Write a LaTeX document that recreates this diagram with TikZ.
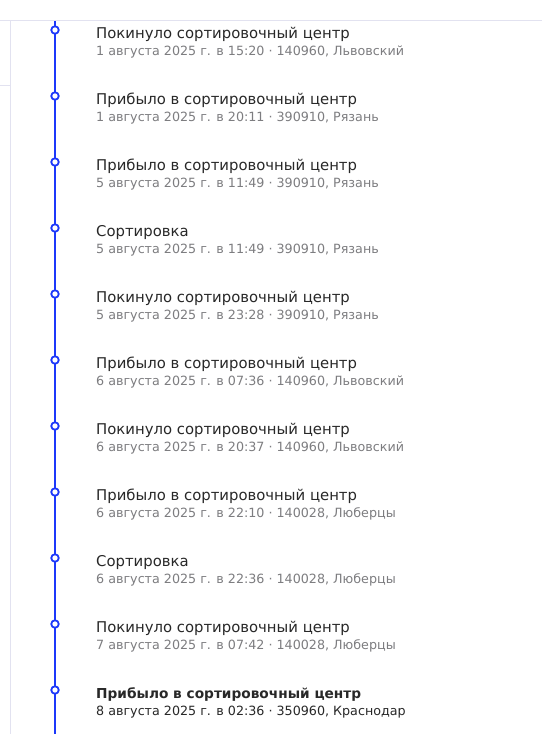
\documentclass[tikz,border=0pt]{standalone}
\usepackage{fontspec}
\setmainfont{DejaVu Sans}
\definecolor{tlblue}{RGB}{28,56,250}
\definecolor{sep}{RGB}{226,226,240}
\definecolor{ttl}{RGB}{40,40,40}
\definecolor{sub}{RGB}{125,125,128}
\begin{document}
\begin{tikzpicture}[x=1pt,y=-1pt,
  dot/.style={circle,draw=tlblue,fill=white,line width=1.8pt,minimum size=7.5pt,inner sep=0pt},
  ttlstyle/.style={anchor=base west,inner sep=0pt,text=ttl,font=\fontsize{14.85}{16}\selectfont},
  substyle/.style={anchor=base west,inner sep=0pt,text=sub,font=\fontsize{12.7}{14}\selectfont},
  sepline/.style={draw=sep,line width=1pt}]
\useasboundingbox (0,0) rectangle (542,734);
\fill[white] (0,0) rectangle (542,734);
\coordinate (t0) at (0,20.5);
\coordinate (t1) at (542,20.5);
\coordinate (v0) at (10.5,20.5);
\coordinate (v1) at (10.5,734);
\coordinate (h0) at (0,85.5);
\coordinate (h1) at (10.5,85.5);
\draw[sepline] (t0) -- (t1);
\draw[sepline] (v0) -- (v1);
\draw[sepline] (h0) -- (h1);
\coordinate (ltop) at (55,21);
\coordinate (lbot) at (55,734);
\draw[tlblue,line width=2.2pt] (ltop) -- (lbot);
\foreach \i/\t/\s in {
 0/{Покинуло сортировочный центр}/{1 августа 2025 г. в 15:20 · 140960, Львовский},
 1/{Прибыло в сортировочный центр}/{1 августа 2025 г. в 20:11 · 390910, Рязань},
 2/{Прибыло в сортировочный центр}/{5 августа 2025 г. в 11:49 · 390910, Рязань},
 3/{Сортировка}/{5 августа 2025 г. в 11:49 · 390910, Рязань},
 4/{Покинуло сортировочный центр}/{5 августа 2025 г. в 23:28 · 390910, Рязань},
 5/{Прибыло в сортировочный центр}/{6 августа 2025 г. в 07:36 · 140960, Львовский},
 6/{Покинуло сортировочный центр}/{6 августа 2025 г. в 20:37 · 140960, Львовский},
 7/{Прибыло в сортировочный центр}/{6 августа 2025 г. в 22:10 · 140028, Люберцы},
 8/{Сортировка}/{6 августа 2025 г. в 22:36 · 140028, Люберцы},
 9/{Покинуло сортировочный центр}/{7 августа 2025 г. в 07:42 · 140028, Люберцы}}{
  \node[dot] (d\i) at (55,{30+66*\i}) {};
  \node[ttlstyle] (t\i) at (96,{38+66*\i}) {\t};
  \node[substyle] (s\i) at (96,{55+66*\i}) {\s};
}
\node[dot] (d10) at (55,690) {};
\node[ttlstyle,font=\fontsize{13.7}{16}\selectfont\bfseries] (t10) at (96,698) {Прибыло в сортировочный центр};
\node[substyle,text=ttl] (s10) at (96,715) {8 августа 2025 г. в 02:36 · 350960, Краснодар};
\end{tikzpicture}
\end{document}
